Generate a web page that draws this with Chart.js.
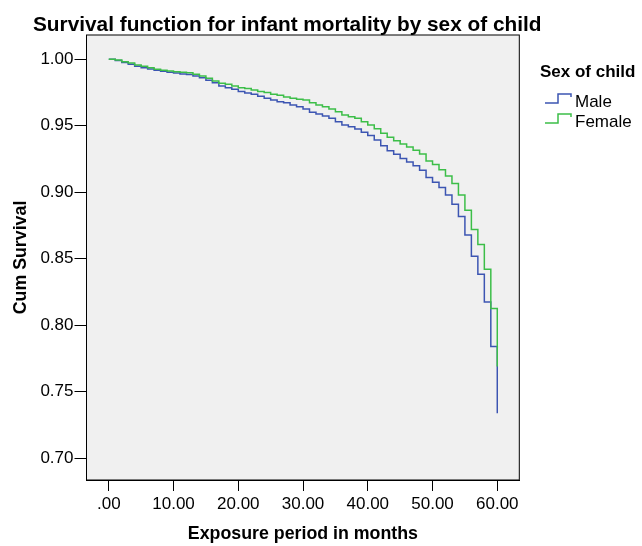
<!DOCTYPE html>
<html lang="en">
<head>
  <meta charset="utf-8" />
  <title>Survival function</title>
  <script src="https://cdn.jsdelivr.net/npm/chart.js"></script>
  <style>
    html, body { margin: 0; padding: 0; background: #ffffff; }
    #wrap { width: 642px; height: 546px; }
  </style>
</head>
<body>
  <div id="wrap"><canvas id="myChart" width="642" height="546"></canvas></div>

  <script>
    // exposure months (step positions)
    const months = [
      0, 1, 2, 3, 4, 5, 6, 7, 8, 9, 10, 11, 12, 13, 14, 15, 16, 17, 18, 19, 20,
      21, 22, 23, 24, 25, 26, 27, 28, 29, 30, 31, 32, 33, 34, 35, 36, 37, 38, 39, 40,
      41, 42, 43, 44, 45, 46, 47, 48, 49, 50, 51, 52, 53, 54, 55, 56, 57, 58, 59, 60
    ];
    // cum survival, male
    const maleSurv = [
      1.0000, 0.9992, 0.9977, 0.9962, 0.9947, 0.9937, 0.9927, 0.9917, 0.9910, 0.9902, 0.9897,
      0.9890, 0.9885, 0.9875, 0.9862, 0.9842, 0.9824, 0.9800, 0.9787, 0.9775, 0.9757,
      0.9747, 0.9737, 0.9722, 0.9707, 0.9694, 0.9681, 0.9674, 0.9656, 0.9644, 0.9626,
      0.9601, 0.9589, 0.9574, 0.9556, 0.9531, 0.9506, 0.9493, 0.9476, 0.9451, 0.9426,
      0.9393, 0.9350, 0.9313, 0.9286, 0.9253, 0.9228, 0.9200, 0.9165, 0.9110, 0.9075,
      0.9035, 0.8980, 0.8910, 0.8817, 0.8679, 0.8519, 0.8383, 0.8175, 0.7839, 0.7338
    ];
    // cum survival, female
    const femaleSurv = [
      1.0000, 0.9995, 0.9982, 0.9972, 0.9957, 0.9947, 0.9937, 0.9925, 0.9917, 0.9912, 0.9907,
      0.9902, 0.9899, 0.9887, 0.9875, 0.9857, 0.9837, 0.9820, 0.9812, 0.9800, 0.9787,
      0.9780, 0.9770, 0.9757, 0.9750, 0.9737, 0.9730, 0.9717, 0.9707, 0.9700, 0.9694,
      0.9674, 0.9656, 0.9644, 0.9626, 0.9606, 0.9581, 0.9568, 0.9556, 0.9531, 0.9506,
      0.9478, 0.9444, 0.9413, 0.9388, 0.9363, 0.9341, 0.9316, 0.9288, 0.9235, 0.9208,
      0.9170, 0.9123, 0.9065, 0.8980, 0.8865, 0.8720, 0.8606, 0.8420, 0.8125, 0.7689
    ];
    const xTicks = [0, 10, 20, 30, 40, 50, 60];
    const yTicks = [0.70, 0.75, 0.80, 0.85, 0.90, 0.95, 1.00];
    const seriesNames = ['Male', 'Female'];

    const FONT = "'Liberation Sans', Arial, sans-serif";
    const BLUE = '#3c55b2';
    const GREEN = '#3cbe48';

    const toPts = (vals) => months.map((m, i) => ({ x: m, y: vals[i] }));

    // plot panel: grey fill + black frame
    const panelPlugin = {
      id: 'panel',
      beforeDraw(chart) {
        const { ctx, chartArea: a } = chart;
        ctx.save();
        ctx.fillStyle = '#f0f0f0';
        ctx.fillRect(a.left, a.top, a.right - a.left, a.bottom - a.top);
        ctx.restore();
      },
      afterDraw(chart) {
        const { ctx, chartArea: a } = chart;
        ctx.save();
        ctx.strokeStyle = '#000';
        ctx.lineWidth = 1;
        ctx.strokeRect(a.left, a.top, a.right - a.left, a.bottom - a.top);
        ctx.restore();
      }
    };

    // title and step-style legend on the right
    const textPlugin = {
      id: 'texts',
      afterDraw(chart) {
        const ctx = chart.ctx;
        ctx.save();
        ctx.fillStyle = '#000';
        ctx.textBaseline = 'alphabetic';
        ctx.font = 'bold 20.8px ' + FONT;
        ctx.fillText('Survival function for infant mortality by sex of child', 33, 31);
        ctx.font = 'bold 17px ' + FONT;
        ctx.fillText('Sex of child', 540, 77);

        ctx.font = '17px ' + FONT;
        const cols = [BLUE, GREEN];
        const rows = [103, 123];
        ctx.lineWidth = 1.5;
        seriesNames.forEach((name, i) => {
          const y = rows[i];
          ctx.strokeStyle = cols[i];
          ctx.beginPath();
          ctx.moveTo(545, y);
          ctx.lineTo(558, y);
          ctx.lineTo(558, y - 9);
          ctx.lineTo(571, y - 9);
          ctx.lineTo(571, y - 6);
          ctx.stroke();
          ctx.fillText(name, 575, y + 4);
        });
        ctx.restore();
      }
    };

    new Chart(document.getElementById('myChart'), {
      type: 'line',
      data: {
        datasets: [
          {
            label: seriesNames[0],
            data: toPts(maleSurv),
            borderColor: BLUE,
            borderWidth: 1.5,
            stepped: 'before',
            pointRadius: 0,
            fill: false,
            order: 2
          },
          {
            label: seriesNames[1],
            data: toPts(femaleSurv),
            borderColor: GREEN,
            borderWidth: 1.5,
            stepped: 'before',
            pointRadius: 0,
            fill: false,
            order: 1
          }
        ]
      },
      options: {
        responsive: false,
        animation: false,
        layout: { padding: { top: 35, right: 122.7, bottom: 0, left: 0 } },
        plugins: {
          legend: { display: false },
          tooltip: { enabled: false },
          title: { display: false }
        },
        scales: {
          x: {
            type: 'linear',
            min: -3.44,
            max: 63.4,
            afterFit: (s) => { s.height = 66; },
            afterBuildTicks: (s) => { s.ticks = xTicks.map(v => ({ value: v })); },
            grid: { drawOnChartArea: false, drawTicks: true, tickLength: 11, color: '#000' },
            border: { display: true, color: '#000' },
            ticks: {
              color: '#000',
              padding: 3,
              maxRotation: 0,
              font: { family: FONT, size: 17 },
              callback: (v) => v === 0 ? '.00' : Number(v).toFixed(2)
            },
            title: {
              display: true,
              text: 'Exposure period in months',
              color: '#000',
              font: { family: FONT, size: 17.8, weight: 'bold' },
              padding: { top: 0, bottom: 1 }
            }
          },
          y: {
            type: 'linear',
            min: 0.6835,
            max: 1.0183,
            afterFit: (s) => { s.width = 86.5; },
            afterBuildTicks: (s) => { s.ticks = yTicks.map(v => ({ value: v })); },
            grid: { drawOnChartArea: false, drawTicks: true, tickLength: 12, color: '#000' },
            border: { display: true, color: '#000' },
            ticks: {
              color: '#000',
              padding: 1,
              font: { family: FONT, size: 17 },
              callback: (v) => Number(v).toFixed(2)
            },
            title: {
              display: true,
              text: 'Cum Survival',
              color: '#000',
              font: { family: FONT, size: 17.8, weight: 'bold' },
              padding: { top: 10, bottom: 0 }
            }
          }
        }
      },
      plugins: [panelPlugin, textPlugin]
    });
  </script>
</body>
</html>
